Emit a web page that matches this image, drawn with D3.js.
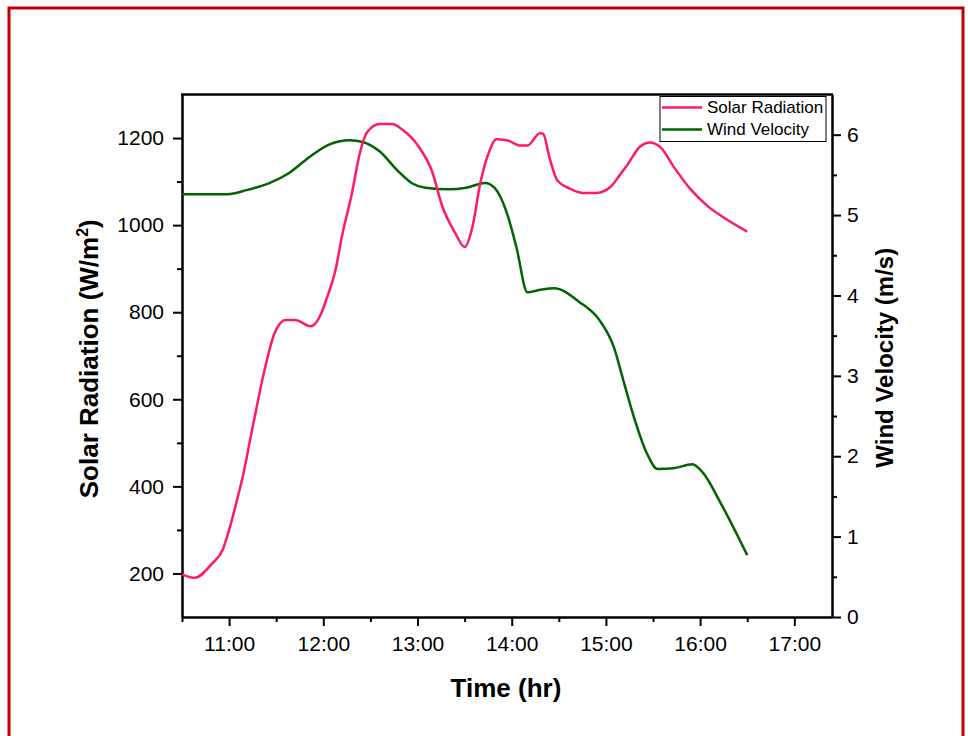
<!DOCTYPE html>
<html>
  <head>
    <meta charset="utf-8" />
    <title>Solar Radiation and Wind Velocity</title>
    <script src="https://d3js.org/d3.v7.min.js"></script>
    <style>
      body { margin: 0; background: #fff; }
      svg text { font-family: "Liberation Sans", Arial, sans-serif; fill: #000; }
      .axis path, .axis line { stroke: #000; stroke-width: 2; }
      .axis text { font-size: 21px; }
      .line { fill: none; stroke-width: 2.5; }
    </style>
  </head>
  <body>
    <svg width="968" height="736"></svg>
    <script>
      // Solar radiation (W/m2)
      const solarTimes = ["10:30","10:38","10:49","10:56","11:00","11:05","11:10","11:13","11:18","11:23",
        "11:29","11:36","11:42","11:52","11:59","12:02","12:08","12:12","12:18","12:23","12:28","12:36",
        "12:44","12:50","13:01","13:09","13:16","13:24","13:30","13:35","13:40","13:46","13:50","13:57",
        "14:05","14:10","14:18","14:20","14:24","14:29","14:37","14:45","14:54","15:03","15:09","15:13",
        "15:22","15:28","15:35","15:43","15:54","16:05","16:17","16:30"];
      const solarValues = [198,190,222,255,300,368,444,500,590,674,
        752,782,782,768,800,830,901,977,1069,1161,1214,1232,
        1232,1220,1179,1126,1041,982,950,996,1097,1172,1197,1195,
        1183,1183,1211,1210,1156,1103,1084,1074,1074,1088,1116,1135,
        1181,1190,1178,1135,1082,1043,1013,985];

      // Wind velocity (m/s)
      const windTimes = ["10:30","10:59","11:11","11:26","11:38","11:51","12:04","12:17","12:25","12:36",
        "12:47","12:57","13:05","13:20","13:31","13:43","13:49","13:57","14:03","14:10","14:18","14:27",
        "14:43","14:56","15:05","15:11","15:17","15:26","15:33","15:43","15:55","16:02","16:13","16:30"];
      const windValues = [5.26,5.26,5.31,5.40,5.52,5.72,5.88,5.93,5.91,5.79,
        5.56,5.39,5.34,5.32,5.34,5.40,5.34,5.02,4.60,4.04,4.07,4.09,
        3.92,3.69,3.36,2.95,2.54,2.04,1.84,1.85,1.90,1.79,1.42,0.77];

      const timeTicks = ["11:00","12:00","13:00","14:00","15:00","16:00","17:00"];
      const timeMinorTicks = ["10:30","11:30","12:30","13:30","14:30","15:30","16:30"];
      const solarTicks = [200,400,600,800,1000,1200];
      const solarMinorTicks = [300,500,700,900,1100];
      const windTicks = [0,1,2,3,4,5,6];
      const windMinorTicks = [0.5,1.5,2.5,3.5,4.5,5.5];

      const toHours = (s) => { const p = s.split(":"); return +p[0] + +p[1] / 60; };

      const svg = d3.select("svg");
      const margin = { top: 94.5, right: 136, bottom: 119, left: 182 };
      const width = +svg.attr("width") - margin.left - margin.right;
      const height = +svg.attr("height") - margin.top - margin.bottom;

      // red frame round the whole picture
      svg.append("rect")
        .attr("x", 9).attr("y", 8)
        .attr("width", 954).attr("height", 760)
        .attr("fill", "none")
        .attr("stroke", "#c00000")
        .attr("stroke-width", 3);

      const g = svg.append("g")
        .attr("transform", "translate(" + margin.left + "," + margin.top + ")");

      const x = d3.scaleLinear().domain([10.5, 17.4]).range([0, width]);
      const yL = d3.scaleLinear().domain([100, 1300]).range([height, 0]);
      const yR = d3.scaleLinear().domain([0, 6.5]).range([height, 0]);

      // minor ticks first
      g.append("g").attr("class", "axis")
        .attr("transform", "translate(0," + height + ")")
        .call(d3.axisBottom(x).tickValues(timeMinorTicks.map(toHours)).tickSize(5).tickSizeOuter(0).tickFormat(""));
      g.append("g").attr("class", "axis")
        .call(d3.axisLeft(yL).tickValues(solarMinorTicks).tickSize(5).tickSizeOuter(0).tickFormat(""));
      g.append("g").attr("class", "axis")
        .attr("transform", "translate(" + width + ",0)")
        .call(d3.axisRight(yR).tickValues(windMinorTicks).tickSize(5).tickSizeOuter(0).tickFormat(""));

      // major ticks with labels
      g.append("g").attr("class", "axis axis--x")
        .attr("transform", "translate(0," + height + ")")
        .call(d3.axisBottom(x).tickValues(timeTicks.map(toHours)).tickSize(9).tickSizeOuter(0).tickPadding(10)
          .tickFormat((d, i) => timeTicks[i]));
      g.append("g").attr("class", "axis axis--y")
        .call(d3.axisLeft(yL).tickValues(solarTicks).tickSize(9).tickSizeOuter(0).tickPadding(9)
          .tickFormat(d3.format("d")));
      g.append("g").attr("class", "axis axis--y2")
        .attr("transform", "translate(" + width + ",0)")
        .call(d3.axisRight(yR).tickValues(windTicks).tickSize(9).tickSizeOuter(0).tickPadding(6)
          .tickFormat(d3.format("d")));

      // top frame line
      g.append("line")
        .attr("x1", -1).attr("x2", width + 1)
        .attr("y1", 0).attr("y2", 0)
        .attr("stroke", "#000").attr("stroke-width", 2.5);

      // lines
      const solarData = solarTimes.map((t, i) => ({ x: toHours(t), y: solarValues[i] }));
      const windData = windTimes.map((t, i) => ({ x: toHours(t), y: windValues[i] }));

      const solarLine = d3.line().curve(d3.curveMonotoneX).x((d) => x(d.x)).y((d) => yL(d.y));
      const windLine = d3.line().curve(d3.curveMonotoneX).x((d) => x(d.x)).y((d) => yR(d.y));

      g.append("path").datum(windData).attr("class", "line").attr("stroke", "#006400").attr("d", windLine);
      g.append("path").datum(solarData).attr("class", "line").attr("stroke", "#ff1a66").attr("d", solarLine);

      // axis titles
      g.append("text")
        .attr("x", width / 2 - 1).attr("y", height + 80)
        .attr("text-anchor", "middle")
        .style("font-size", "26px").style("font-weight", "bold")
        .text("Time (hr)");

      const ylab = g.append("text")
        .attr("transform", "translate(-84," + (height / 2 + 3) + ") rotate(-90)")
        .attr("text-anchor", "middle")
        .style("font-size", "26px").style("font-weight", "bold");
      ylab.append("tspan").text("Solar Radiation (W/m");
      ylab.append("tspan").attr("dy", -10).style("font-size", "16px").text("2");
      ylab.append("tspan").attr("dy", 10).text(")");

      g.append("text")
        .attr("transform", "translate(" + (width + 61) + "," + (height / 2 + 2) + ") rotate(-90)")
        .attr("text-anchor", "middle")
        .style("font-size", "24px").style("font-weight", "bold")
        .text("Wind Velocity (m/s)");

      // legend
      const legendItems = [
        { name: "Solar Radiation", color: "#ff1a66" },
        { name: "Wind Velocity", color: "#006400" },
      ];
      const lg = g.append("g").attr("transform", "translate(" + (660 - margin.left) + "," + (96.5 - margin.top) + ")");
      lg.append("rect")
        .attr("width", 166).attr("height", 45)
        .attr("fill", "#fff").attr("stroke", "#000").attr("stroke-width", 1);
      legendItems.forEach((d, i) => {
        lg.append("line")
          .attr("x1", 2).attr("x2", 42)
          .attr("y1", 11 + i * 22).attr("y2", 11 + i * 22)
          .attr("stroke", d.color).attr("stroke-width", 2.5);
        lg.append("text")
          .attr("x", 47).attr("y", 11 + i * 22).attr("dy", "0.35em")
          .style("font-size", "17px")
          .text(d.name);
      });
    </script>
  </body>
</html>
